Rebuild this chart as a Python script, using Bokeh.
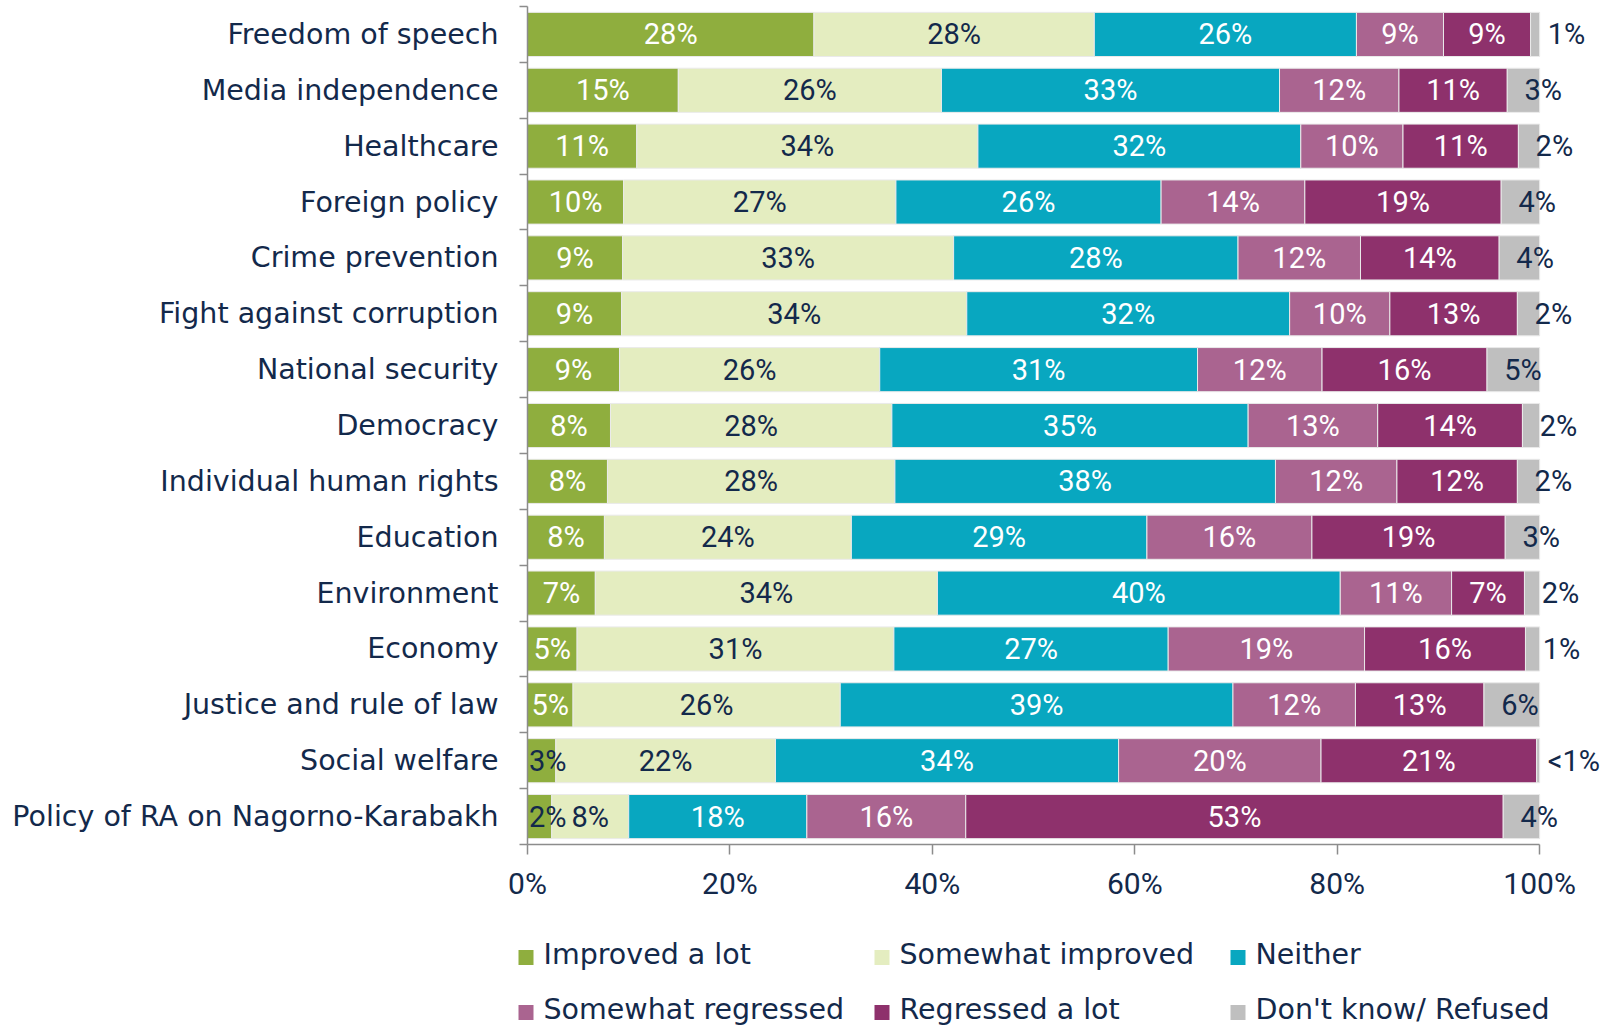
from bokeh.plotting import figure
from bokeh.layouts import column
from bokeh.models import (Range1d, FixedTicker, PrintfTickFormatter,
                          ColumnDataSource)
from bokeh.core.properties import value
from bokeh.embed import file_html
from bokeh.resources import INLINE

# ---------------- data ----------------
categories = [
    "Freedom of speech",
    "Media independence",
    "Healthcare",
    "Foreign policy",
    "Crime prevention",
    "Fight against corruption",
    "National security",
    "Democracy",
    "Individual human rights",
    "Education",
    "Environment",
    "Economy",
    "Justice and rule of law",
    "Social welfare",
    "Policy of RA on Nagorno-Karabakh",
]

series_names = ["Improved a lot", "Somewhat improved", "Neither",
                "Somewhat regressed", "Regressed a lot", "Don't know/ Refused"]

improved_a_lot = [28.3, 14.9, 10.8, 9.5, 9.4, 9.3, 9.1, 8.2, 7.9, 7.6, 6.7, 4.9, 4.5, 2.8, 2.4]
somewhat_improved = [27.7, 26.0, 33.7, 26.9, 32.7, 34.1, 25.7, 27.8, 28.4, 24.4, 33.8, 31.3, 26.4, 21.7, 7.6]
neither = [25.9, 33.4, 31.9, 26.2, 28.1, 31.9, 31.4, 35.2, 37.6, 29.2, 39.8, 27.1, 38.8, 33.9, 17.6]
somewhat_regressed = [8.6, 11.8, 10.1, 14.2, 12.1, 9.9, 12.3, 12.8, 12.0, 16.3, 11.0, 19.4, 12.1, 20.0, 15.7]
regressed_a_lot = [8.6, 10.7, 11.4, 19.4, 13.7, 12.6, 16.3, 14.3, 11.9, 19.1, 7.2, 15.9, 12.7, 21.3, 53.1]
dont_know = [0.9, 3.2, 2.1, 3.8, 4.0, 2.2, 5.2, 1.7, 2.2, 3.4, 1.5, 1.4, 5.5, 0.3, 3.6]

x_ticks = [0, 20, 40, 60, 80, 100]

# ---------------- styles ----------------
series = [improved_a_lot, somewhat_improved, neither,
          somewhat_regressed, regressed_a_lot, dont_know]
colors = ["#8FAE3E", "#E4EDC0", "#08A7C0", "#AA6490", "#8E316C", "#BFBFBF"]
NAVY = "#13294B"
AXIS = "#8C8C8C"
TEXT_FONT = "DejaVu Sans"
NUM_FONT = "Roboto"

W = 1610
MAIN_H = 910
LEG_H = 116

n = len(categories)
y_centers = [n - i - 0.5 for i in range(n)]

p = figure(width=W, height=MAIN_H,
           x_range=Range1d(0, 107.0), y_range=Range1d(0, n),
           output_backend="svg", toolbar_location=None,
           min_border_left=527, min_border_right=0,
           min_border_top=6, min_border_bottom=66)
p.outline_line_color = None
p.xgrid.visible = False
p.ygrid.visible = False
p.background_fill_color = "white"

# bars (all first, so labels sit on top of every bar)
bounds = []
lefts = [0.0] * n
renderers = []
for k, (name, vals, col) in enumerate(zip(series_names, series, colors)):
    rights = [l + v for l, v in zip(lefts, vals)]
    src = ColumnDataSource(dict(y=y_centers, left=lefts, right=rights))
    r = p.hbar(y="y", left="left", right="right", height=0.79, source=src,
               fill_color=col, line_color="#EAEAEA", line_width=1)
    renderers.append(r)
    bounds.append((lefts, rights))
    lefts = rights

# data labels
for k, vals in enumerate(series):
    lft, rgt = bounds[k]
    texts = [("<1%" if v < 0.5 else f"{int(v + 0.5)}%") for v in vals]
    if k == 5:
        xs = [min(l + 1.7, 100.8) for l in lft]
        align = "left"
        tcol = [NAVY] * n
    elif k == 0:
        xs = [max(v / 2.0, 2.0) for v in vals]
        align = "center"
        tcol = [(NAVY if v < 4 else "white") for v in vals]
    else:
        xs = [(l + rr) / 2.0 for l, rr in zip(lft, rgt)]
        align = "center"
        tcol = [(NAVY if k == 1 else "white")] * n
    p.text(x=xs, y=y_centers, text=texts, text_align=align,
           text_baseline="middle", text_font=value(NUM_FONT),
           text_font_size="29px", text_color=tcol)

# ---------------- y axis ----------------
yax = p.yaxis[0]
yax.ticker = FixedTicker(ticks=y_centers, minor_ticks=list(range(n + 1)))
yax.major_label_overrides = {y: c for y, c in zip(y_centers, categories)}
yax.major_tick_line_color = None
yax.major_tick_out = 0
yax.major_tick_in = 0
yax.minor_tick_out = 8
yax.minor_tick_in = 0
yax.minor_tick_line_color = AXIS
yax.minor_tick_line_width = 1.5
yax.axis_line_color = AXIS
yax.axis_line_width = 1.5
yax.major_label_text_font = TEXT_FONT
yax.major_label_text_font_size = "28.5px"
yax.major_label_text_color = NAVY
yax.major_label_standoff = 21

# ---------------- x axis ----------------
xax = p.xaxis[0]
xax.ticker = FixedTicker(ticks=x_ticks)
xax.formatter = PrintfTickFormatter(format="%d%%")
xax.bounds = (0, 100)
xax.major_tick_out = 10
xax.major_tick_in = 0
xax.major_tick_line_color = AXIS
xax.major_tick_line_width = 1.5
xax.minor_tick_line_color = None
xax.axis_line_color = AXIS
xax.axis_line_width = 1.5
xax.major_label_text_font = NUM_FONT
xax.major_label_text_font_size = "30px"
xax.major_label_text_color = NAVY
xax.major_label_standoff = 11

# ---------------- legend (separate strip below, in page pixels) ----------------
lg = figure(width=W, height=LEG_H,
            x_range=Range1d(0, W), y_range=Range1d(MAIN_H + LEG_H, MAIN_H),
            output_backend="svg", toolbar_location=None,
            x_axis_location=None, y_axis_location=None,
            min_border_left=0, min_border_right=0,
            min_border_top=0, min_border_bottom=0)
lg.outline_line_color = None
lg.xgrid.visible = False
lg.ygrid.visible = False
if "frame_align" in lg.properties():
    lg.frame_align = False
    p.frame_align = False

col_x = [518 + 356 * (k % 3) for k in range(len(series_names))]
row_y = [954 + 55 * (k // 3) for k in range(len(series_names))]
lg.rect(x=[x + 7.5 for x in col_x], y=[y + 3 for y in row_y],
        width=15, height=15, fill_color=colors, line_color=None)
lg.text(x=[x + 25 for x in col_x], y=row_y, text=series_names,
        text_align="left", text_baseline="middle",
        text_font=value(TEXT_FONT), text_font_size="28.5px", text_color=NAVY)

layout = column(p, lg, spacing=0)
open("out.html", "w").write(file_html(layout, INLINE))
